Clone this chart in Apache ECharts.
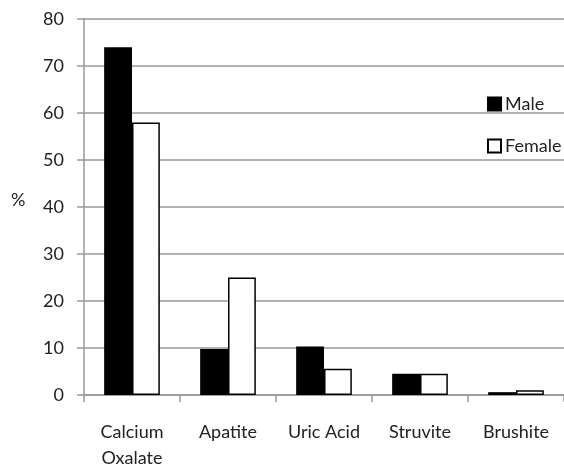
<!DOCTYPE html>
<html>
<head>
<meta charset="utf-8">
<script src="https://cdn.jsdelivr.net/npm/echarts@6/dist/echarts.min.js"></script>
<style>html,body{margin:0;padding:0;background:#fff}#c{width:564px;height:471px}</style>
</head>
<body>
<div id="c"></div>
<script>
var categories = ['Calcium\nOxalate', 'Apatite', 'Uric Acid', 'Struvite', 'Brushite'];
var maleValues = [74, 9.8, 10.3, 4.5, 0.6];
var femaleValues = [58, 25, 5.6, 4.5, 1.0];
var yTicks = [0, 10, 20, 30, 40, 50, 60, 70, 80];

var font = 'Lato';
var chart = echarts.init(document.getElementById('c'), null, {renderer: 'canvas'});
chart.setOption({
  animation: false,
  backgroundColor: '#fff',
  textStyle: {fontFamily: font},
  grid: {left: 84, right: 0, top: 19, bottom: 67, containLabel: false},
  legend: {
    orient: 'vertical', left: 482, top: 90, itemGap: 24, itemWidth: 13, itemHeight: 13,
    icon: 'rect',
    textStyle: {fontFamily: font, fontSize: 18, color: '#222', padding: [0, 0, 0, -1]},
    data: ['Male', 'Female']
  },
  xAxis: {
    type: 'category', data: categories,
    axisLine: {lineStyle: {color: '#999', width: 1.5}},
    axisTick: {show: true, length: 7, lineStyle: {color: '#999', width: 1.5}},
    axisLabel: {fontFamily: font, fontSize: 18, color: '#222', margin: 24, lineHeight: 26}
  },
  yAxis: {
    type: 'value', min: yTicks[0], max: yTicks[yTicks.length - 1], interval: 10,
    axisLine: {show: true, lineStyle: {color: '#999', width: 1.5}},
    axisTick: {show: true, length: 7, lineStyle: {color: '#999', width: 1.5}},
    splitLine: {lineStyle: {color: '#999', width: 1.5}},
    axisLabel: {fontFamily: font, fontSize: 18, color: '#222', margin: 20}
  },
  graphic: [{
    type: 'text', left: 11, top: 191,
    style: {text: '%', fontFamily: font, fontSize: 18, fill: '#222'}
  }],
  series: [
    {name: 'Male', type: 'bar', data: maleValues, barGap: '0%', barCategoryGap: '42%',
     itemStyle: {color: '#000', borderColor: '#000', borderWidth: 1.5}},
    {name: 'Female', type: 'bar', data: femaleValues,
     itemStyle: {color: '#fff', borderColor: '#000', borderWidth: 1.5}}
  ]
});
</script>
</body>
</html>
